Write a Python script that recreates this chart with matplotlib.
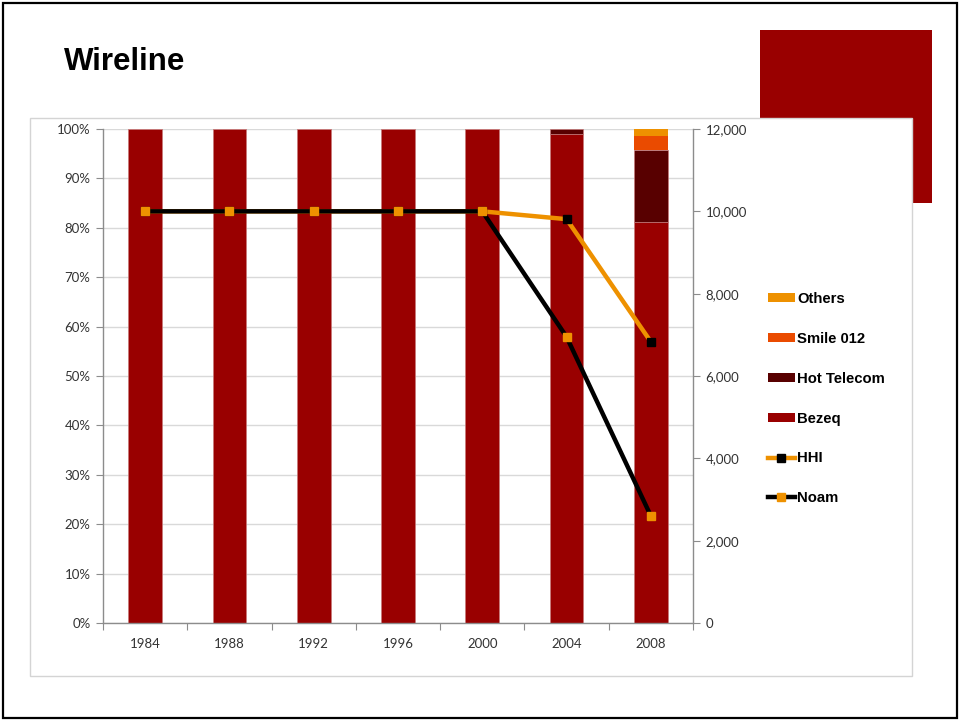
import matplotlib
matplotlib.use("Agg")
import matplotlib.pyplot as plt
from matplotlib.patches import Rectangle, Patch
from matplotlib.lines import Line2D
import numpy as np

years = ["1984", "1988", "1992", "1996", "2000", "2004", "2008"]
bezeq = [100, 100, 100, 100, 100, 98.9, 81.2]
hot_telecom = [0, 0, 0, 0, 0, 1.1, 14.6]
smile_012 = [0, 0, 0, 0, 0, 0, 2.7]
others = [0, 0, 0, 0, 0, 0, 1.5]
hhi = [10000, 10000, 10000, 10000, 10000, 9810, 6830]
noam = [10000, 10000, 10000, 10000, 10000, 6950, 2600]

c_bezeq = "#990000"
c_hot = "#580000"
c_smile = "#ea4b00"
c_others = "#ee9100"
c_hhi = "#ee9100"
c_noam = "#000000"

tick_font = "Lato"

fig = plt.figure(figsize=(9.6, 7.21), dpi=100)
W, H = 960, 721

def px(x, y, w, h):
    return (x / W, 1 - (y + h) / H, w / W, h / H)

# slide frame
fig.patches.append(Rectangle((3 / W, 1 - 718 / H), 954 / W, 715 / H, transform=fig.transFigure,
                             fill=False, edgecolor="#000000", linewidth=1.6, zorder=0))
# decorative red block
fig.patches.append(Rectangle((760 / W, 1 - 203 / H), 172 / W, 173 / H, transform=fig.transFigure,
                             facecolor=c_bezeq, edgecolor="none", zorder=1))
# chart panel
fig.patches.append(Rectangle((30 / W, 1 - 676 / H), 882 / W, 558 / H, transform=fig.transFigure,
                             facecolor="white", edgecolor="#d4d4d4", linewidth=1.0, zorder=2))

fig.text(64 / W, 1 - 70 / H, "Wireline", fontsize=22.5, fontweight="bold",
         family="Liberation Sans", color="black", va="baseline", ha="left")

ax = fig.add_axes(px(103, 129, 590, 494))
ax.set_zorder(3)
ax.patch.set_alpha(0)

x = np.arange(len(years))
w = 0.4
edge = dict(edgecolor="#c77a7a", linewidth=0.5)
b0 = np.zeros(len(years))
ax.bar(x, bezeq, w, bottom=b0, color=c_bezeq, zorder=2, **edge)
b1 = b0 + np.array(bezeq)
ax.bar(x, hot_telecom, w, bottom=b1, color=c_hot, zorder=2, **edge)
b2 = b1 + np.array(hot_telecom)
ax.bar(x, smile_012, w, bottom=b2, color=c_smile, zorder=2, linewidth=0)
b3 = b2 + np.array(smile_012)
ax.bar(x, others, w, bottom=b3, color=c_others, zorder=2, linewidth=0)

ax.set_xlim(-0.5, len(years) - 0.5)
ax.set_ylim(0, 100)
ax.set_yticks(np.arange(0, 101, 10))
ax.set_yticklabels([f"{v}%" for v in range(0, 101, 10)])
ax.grid(axis="y", color="#d9d9d9", linewidth=1.0, zorder=0)
ax.set_axisbelow(True)
ax.set_xticks(np.arange(-0.5, len(years), 1.0))
ax.set_xticklabels([])
ax.set_xticks(x, minor=True)
ax.set_xticklabels(years, minor=True)
ax.tick_params(axis="x", which="major", length=5, color="#8c8c8c", direction="out")
ax.tick_params(axis="x", which="minor", length=0, pad=11, labelsize=9.5, labelcolor="#333333")
ax.tick_params(axis="y", length=5, color="#8c8c8c", labelsize=9.5, labelcolor="#333333", pad=4)
for lab in ax.get_xticklabels(minor=True) + ax.get_yticklabels():
    lab.set_family(tick_font)
for s in ["top", "right"]:
    ax.spines[s].set_visible(False)
for s in ["left", "bottom"]:
    ax.spines[s].set_color("#8c8c8c")
    ax.spines[s].set_linewidth(1.0)

ax2 = ax.twinx()
ax2.set_ylim(0, 12000)
ax2.set_yticks(np.arange(0, 12001, 2000))
ax2.set_yticklabels([f"{v:,}" for v in range(0, 12001, 2000)])
ax2.tick_params(axis="y", length=5, color="#8c8c8c", labelsize=9.5, labelcolor="#333333", pad=4)
for lab in ax2.get_yticklabels():
    lab.set_family(tick_font)
for s in ["top", "left", "bottom"]:
    ax2.spines[s].set_visible(False)
ax2.spines["right"].set_color("#8c8c8c")
ax2.spines["right"].set_linewidth(1.0)

ax2.plot(x, hhi, color=c_hhi, linewidth=3.2, marker="s", markersize=5.5,
         markerfacecolor="black", markeredgecolor="black", zorder=3)
ax2.plot(x, noam, color=c_noam, linewidth=3.2, marker="s", markersize=5.5,
         markerfacecolor=c_others, markeredgecolor=c_others, zorder=4)

handles = [
    Patch(facecolor=c_others, edgecolor="none"),
    Patch(facecolor=c_smile, edgecolor="none"),
    Patch(facecolor=c_hot, edgecolor="none"),
    Patch(facecolor=c_bezeq, edgecolor="none"),
    Line2D([], [], color=c_hhi, linewidth=3.2, marker="s", markersize=5.5,
           markerfacecolor="black", markeredgecolor="black"),
    Line2D([], [], color=c_noam, linewidth=3.2, marker="s", markersize=5.5,
           markerfacecolor=c_others, markeredgecolor=c_others),
]
labels = ["Others", "Smile 012", "Hot Telecom", "Bezeq", "HHI", "Noam"]
leg = fig.legend(handles, labels, loc="upper left", bbox_to_anchor=(768 / W, 1 - 292 / H),
                 frameon=False, prop=dict(family="Liberation Sans", weight="bold", size=10.7),
                 handlelength=1.8, handleheight=0.55, handletextpad=0.15,
                 labelspacing=1.74, borderaxespad=0, borderpad=0)
leg.set_zorder(5)

fig.savefig("out.png", dpi=100)
